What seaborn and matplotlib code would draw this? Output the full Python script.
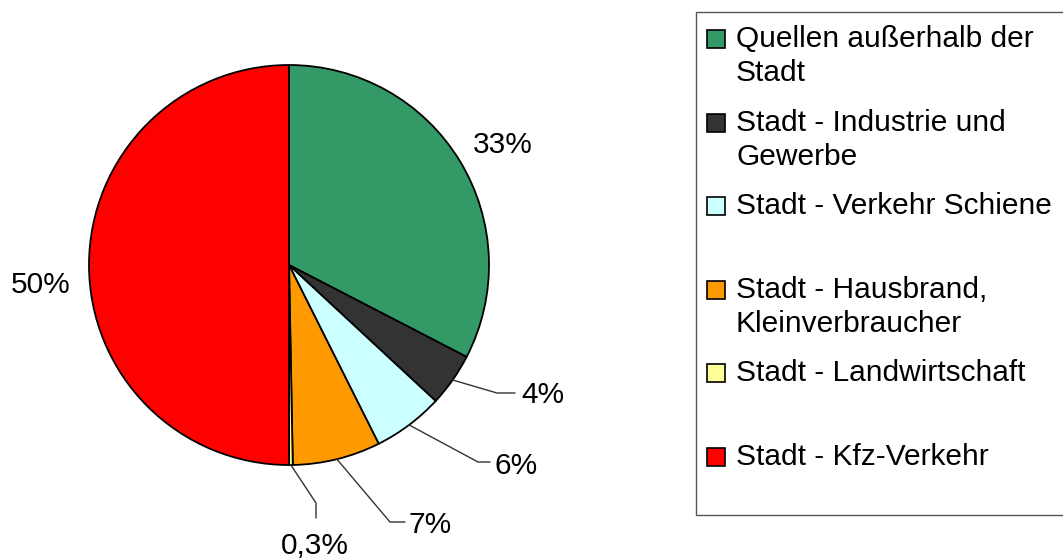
import numpy as np
import matplotlib.pyplot as plt
import seaborn as sns
from matplotlib.patches import Rectangle

sns.set_theme(style="white")
plt.rcParams['font.family'] = ['Liberation Sans', 'DejaVu Sans']

# Anteile der Quellen (Prozent), im Uhrzeigersinn ab 12 Uhr
categories = ['Quellen außerhalb der\nStadt', 'Stadt - Industrie und\nGewerbe',
              'Stadt - Verkehr Schiene', 'Stadt - Hausbrand,\nKleinverbraucher',
              'Stadt - Landwirtschaft', 'Stadt - Kfz-Verkehr']
shares = [32.6, 4.3, 5.7, 7.1, 0.3, 50.0]
share_labels = ['33%', '4%', '6%', '7%', '0,3%', '50%']
colors = ['#339966', '#333333', '#CCFFFF', '#FF9900', '#FFFF99', '#FF0000']

FS = 21.5
W, H = 1063, 559
fig = plt.figure(figsize=(W / 100, H / 100), dpi=100)
fig.patch.set_facecolor('white')

# pie axes: center (289,265), radius 200 px
cx, cy, r = 289, 265, 200
ax = fig.add_axes([(cx - r) / W, (H - cy - r) / H, 2 * r / W, 2 * r / H])
wedges, _ = ax.pie(shares, colors=colors, startangle=90, counterclock=False,
                   radius=1.0, wedgeprops=dict(edgecolor='black', linewidth=1.3))
ax.set_xlim(-1, 1)
ax.set_ylim(-1, 1)
ax.set_aspect('equal')
ax.axis('off')

# label placement: (text x, text y, ha, leader elbow, leader end)
label_pos = [
    (1.07, 0.60, 'center', None, None),
    (1.16, -0.65, 'left', (1.04, -0.64), (1.13, -0.64)),
    (1.03, -1.005, 'left', (0.945, -0.985), (1.005, -0.985)),
    (0.595, -1.30, 'left', (0.505, -1.285), (0.58, -1.285)),
    (0.13, -1.405, 'center', (0.135, -1.19), (0.135, -1.265)),
    (-1.24, -0.10, 'center', None, None),
]
for w, lab, (tx, ty, ha, elbow, end) in zip(wedges, share_labels, label_pos):
    ang = np.deg2rad((w.theta1 + w.theta2) / 2)
    if elbow is not None:
        ex, ey = np.cos(ang), np.sin(ang)
        ax.plot([ex, elbow[0], end[0]], [ey, elbow[1], end[1]], color='#333333',
                lw=1.0, clip_on=False)
    ax.text(tx, ty, lab, ha=ha, va='center', fontsize=FS, color='black', clip_on=False)

# legend box
fig.add_artist(Rectangle((696 / W, 1 - 515 / H), (1075 - 696) / W, (515 - 12) / H,
                         transform=fig.transFigure, facecolor='white',
                         edgecolor='#555555', lw=1.0))
y0, step = 39, 83.6
for i, (lab, col) in enumerate(zip(categories, colors)):
    yc = y0 + i * step
    fig.add_artist(Rectangle((707 / W, 1 - (yc + 9) / H), 18 / W, 18 / H,
                             transform=fig.transFigure, facecolor=col,
                             edgecolor='black', lw=1.2))
    for j, line in enumerate(lab.split('\n')):
        fig.text(736 / W, 1 - (yc + j * 34) / H, line, ha='left', va='center',
                 fontsize=FS, color='black')

fig.savefig('out.png', dpi=100)
